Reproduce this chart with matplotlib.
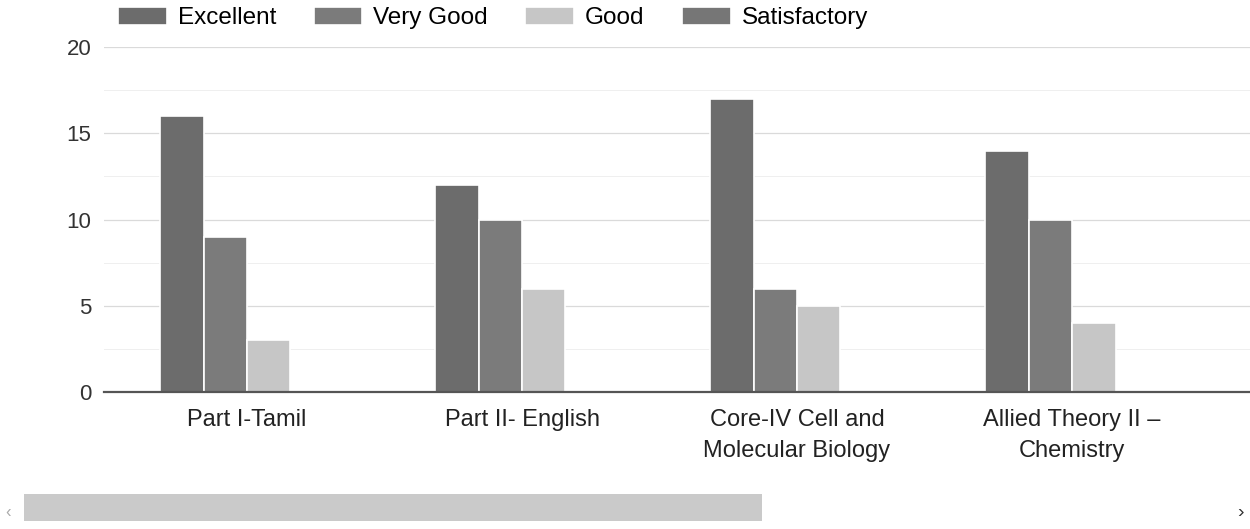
# Grouped bar chart - course feedback ratings
import numpy as np
import matplotlib
matplotlib.use('Agg')
import matplotlib.pyplot as plt
from matplotlib.patches import Rectangle

plt.rcParams['font.family'] = ['Liberation Sans', 'DejaVu Sans']

# Data
courses = ['Part I-Tamil', 'Part II- English', 'Core-IV Cell and\nMolecular Biology',
           'Allied Theory II \u2013\nChemistry']
ratings = ['Excellent', 'Very Good', 'Good', 'Satisfactory']
excellent = [16, 12, 17, 14]
very_good = [9, 10, 6, 10]
good = [3, 6, 5, 4]
satisfactory = [0, 0, 0, 0]
colors = ['#6c6c6c', '#7b7b7b', '#c6c6c6', '#767676']

series = [excellent, very_good, good, satisfactory]

fig = plt.figure(figsize=(12.5, 5.29), dpi=100)
ax = fig.add_axes([104 / 1250, 1 - 392 / 529, 1 - 104 / 1250, (392 - 47) / 529])

x = np.arange(len(courses))
width = 0.158
for i, (vals, name) in enumerate(zip(series, ratings)):
    ax.bar(x + (i - 1.5) * width, vals, width, color=colors[i], label=name,
           edgecolor='white', linewidth=1.2, zorder=3)

ax.set_xlim(-0.52, 3.647)
ax.set_ylim(0, 20)
ax.set_yticks([0, 5, 10, 15, 20])
ax.set_yticks(np.arange(2.5, 20, 5), minor=True)
ax.grid(axis='y', which='major', color='#dadada', linewidth=0.9, zorder=0)
ax.grid(axis='y', which='minor', color='#efefef', linewidth=0.7, zorder=0)

ax.set_xticks(x)
ax.set_xticklabels(courses, fontsize=17, color='#222222', linespacing=1.55)
ax.tick_params(axis='x', length=0, pad=12)
ax.tick_params(axis='y', which='both', length=0, pad=9, labelsize=16, labelcolor='#333333')

for s in ['top', 'right', 'left']:
    ax.spines[s].set_visible(False)
ax.spines['bottom'].set_color('#555555')
ax.spines['bottom'].set_linewidth(1.6)
ax.spines['bottom'].set_zorder(4)

fig.legend(loc='center left', bbox_to_anchor=(118 / 1250, 1 - 18 / 529), ncol=4,
           frameon=False, fontsize=17.5, handlelength=2.0, handleheight=0.75,
           handletextpad=0.45, columnspacing=1.55, borderaxespad=0, borderpad=0)

# scrollbar at the bottom
fig.patches.append(Rectangle((24 / 1250, (529 - 521) / 529), (762 - 24) / 1250, 27 / 529,
                             transform=fig.transFigure, facecolor='#cacaca',
                             edgecolor='none'))
fig.text(8 / 1250, 1 - 512 / 529, '\u2039', fontsize=12, color='#aaaaaa', va='center', ha='center')
fig.text(1240 / 1250, 1 - 512 / 529, '\u203a', fontsize=14, color='#333333', va='center', ha='center')

fig.savefig('out.png', dpi=100)
